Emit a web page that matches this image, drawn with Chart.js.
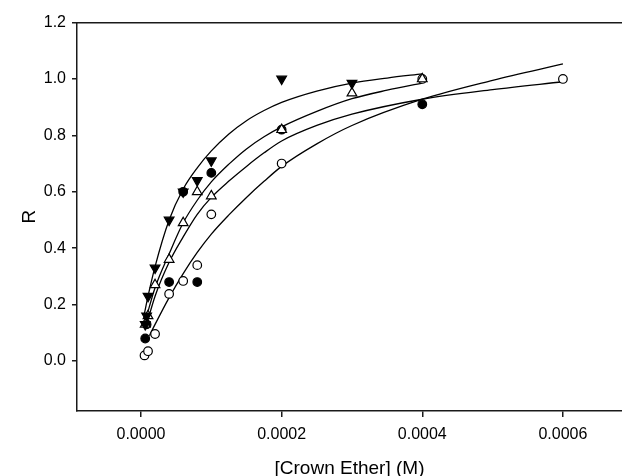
<!DOCTYPE html>
<html><head><meta charset="utf-8">
<script src="https://cdn.jsdelivr.net/npm/chart.js@4/dist/chart.umd.min.js"></script>
<style>html,body{margin:0;padding:0;background:#fff;overflow:hidden;} canvas{display:block;}</style>
</head><body>
<canvas id="c" width="622" height="476"></canvas>
<script>
// ---- data (x in M, y = R) ----
const downTriX = [0.000006, 0.000008, 0.00001, 0.00002, 0.00004, 0.00006, 0.00008, 0.0001, 0.0002, 0.0003];
const downTriY = [0.13, 0.16, 0.23, 0.33, 0.50, 0.60, 0.64, 0.71, 1.00, 0.985];
const openTriX = [0.000006, 0.00001, 0.00002, 0.00004, 0.00006, 0.00008, 0.0001, 0.0002, 0.0003, 0.0004];
const openTriY = [0.13, 0.16, 0.27, 0.36, 0.49, 0.60, 0.585, 0.82, 0.95, 1.00];
const fillCircX = [0.000006, 0.000008, 0.00004, 0.00006, 0.00008, 0.0001, 0.0002, 0.0004];
const fillCircY = [0.08, 0.13, 0.28, 0.60, 0.28, 0.667, 0.82, 0.91];
const openCircX = [0.000005, 0.00001, 0.00002, 0.00004, 0.00006, 0.00008, 0.0001, 0.0002, 0.0004, 0.0006];
const openCircY = [0.02, 0.035, 0.096, 0.238, 0.284, 0.34, 0.52, 0.70, 1.00, 1.00];

// fitted curves
const curve1X = [0.000005, 0.00001, 0.00002, 0.00004, 0.00006, 0.00008, 0.0001, 0.000125, 0.00015, 0.000175, 0.0002, 0.00025, 0.0003, 0.00035, 0.0004];
const curve1Y = [0.17, 0.23, 0.335, 0.50, 0.61, 0.685, 0.745, 0.805, 0.852, 0.888, 0.917, 0.957, 0.985, 1.003, 1.018];
const curve2X = [0.000007, 0.00002, 0.00004, 0.00006, 0.00008, 0.0001, 0.000125, 0.00015, 0.000175, 0.0002, 0.00025, 0.0003, 0.00035, 0.0004];
const curve2Y = [0.15, 0.26, 0.38, 0.49, 0.57, 0.635, 0.698, 0.752, 0.795, 0.83, 0.885, 0.93, 0.96, 0.985];
const curve3X = [0.000008, 0.00002, 0.00004, 0.00006, 0.00008, 0.0001, 0.000125, 0.00015, 0.000175, 0.0002, 0.00025, 0.0003, 0.0004, 0.0005, 0.0006];
const curve3Y = [0.13, 0.23, 0.35, 0.44, 0.52, 0.58, 0.638, 0.69, 0.738, 0.78, 0.835, 0.875, 0.928, 0.962, 0.99];
const curve4X = [0.000012, 0.00002, 0.00004, 0.00006, 0.00008, 0.0001, 0.000125, 0.00015, 0.000175, 0.0002, 0.00025, 0.0003, 0.0004, 0.0005, 0.0006];
const curve4Y = [0.09, 0.13, 0.225, 0.31, 0.385, 0.45, 0.518, 0.58, 0.637, 0.69, 0.77, 0.835, 0.928, 0.995, 1.053];

const xTicks = [0, 0.0002, 0.0004, 0.0006];
const yTicks = [0.0, 0.2, 0.4, 0.6, 0.8, 1.0, 1.2];
const xLabel = '[Crown Ether] (M)';
const yLabel = 'R';

const pts = (xs, ys) => xs.map((x, i) => ({x: x, y: ys[i]}));
const FONT = "'Liberation Sans', Arial, sans-serif";
const AX = '#1a1a1a';

function curve(xs, ys) {
  return {data: pts(xs, ys), showLine: true, pointRadius: 0, borderColor: '#000',
          borderWidth: 1.3, cubicInterpolationMode: 'monotone', fill: false};
}
function marker(xs, ys, style, filled, rot) {
  return {data: pts(xs, ys), showLine: false, pointStyle: style, pointRotation: rot || 0,
          pointRadius: style === 'circle' ? 4.3 : 5.6,
          backgroundColor: filled ? '#000' : '#fff', borderColor: '#000', borderWidth: 1.2};
}
function noSidePad(s) { s.paddingLeft = 0; s.paddingRight = 0; }

new Chart(document.getElementById('c'), {
  type: 'scatter',
  data: {datasets: [
    marker(downTriX, downTriY, 'triangle', true, 180),
    marker(openTriX, openTriY, 'triangle', false, 0),
    marker(fillCircX, fillCircY, 'circle', true, 0),
    marker(openCircX, openCircY, 'circle', false, 0),
    curve(curve1X, curve1Y), curve(curve2X, curve2Y),
    curve(curve3X, curve3Y), curve(curve4X, curve4Y)
  ]},
  options: {
    responsive: false, animation: false,
    layout: {autoPadding: false, padding: {top: 22.5, left: 0, right: 0, bottom: 0}},
    plugins: {legend: {display: false}, tooltip: {enabled: false}},
    scales: {
      x: {
        type: 'linear', position: 'bottom', min: -0.000091, max: 0.000684,
        afterBuildTicks: s => { s.ticks = xTicks.map(v => ({value: v})); },
        afterFit: s => { s.height = 65; noSidePad(s); },
        ticks: {callback: v => v.toFixed(4), color: '#000', padding: 8, maxRotation: 0,
                font: {family: FONT, size: 16}},
        grid: {drawOnChartArea: false, drawTicks: true, tickLength: 6, color: AX, lineWidth: 1.5},
        border: {display: true, color: AX, width: 1.5},
        title: {display: true, text: xLabel, color: '#000', font: {family: FONT, size: 19, lineHeight: 1.0},
                padding: {top: 0, bottom: -2}}
      },
      xTop: {
        type: 'linear', position: 'top', min: -0.000091, max: 0.000684,
        afterFit: s => { s.height = 0; noSidePad(s); },
        ticks: {display: false},
        grid: {drawOnChartArea: false, drawTicks: false},
        border: {display: true, color: AX, width: 1.5}
      },
      y: {
        type: 'linear', position: 'left', min: -0.177, max: 1.2,
        afterBuildTicks: s => { s.ticks = yTicks.map(v => ({value: v})); },
        afterFit: s => { s.width = 77; },
        ticks: {callback: v => v.toFixed(1), color: '#000', padding: 6,
                font: {family: FONT, size: 16}},
        grid: {drawOnChartArea: false, drawTicks: true, tickLength: 5, color: AX, lineWidth: 1.5},
        border: {display: true, color: AX, width: 1.5},
        title: {display: true, text: yLabel, color: '#000', font: {family: FONT, size: 19, lineHeight: 1.0},
                padding: {top: 20, bottom: 0}}
      }
    }
  }
});
</script>
</body></html>
